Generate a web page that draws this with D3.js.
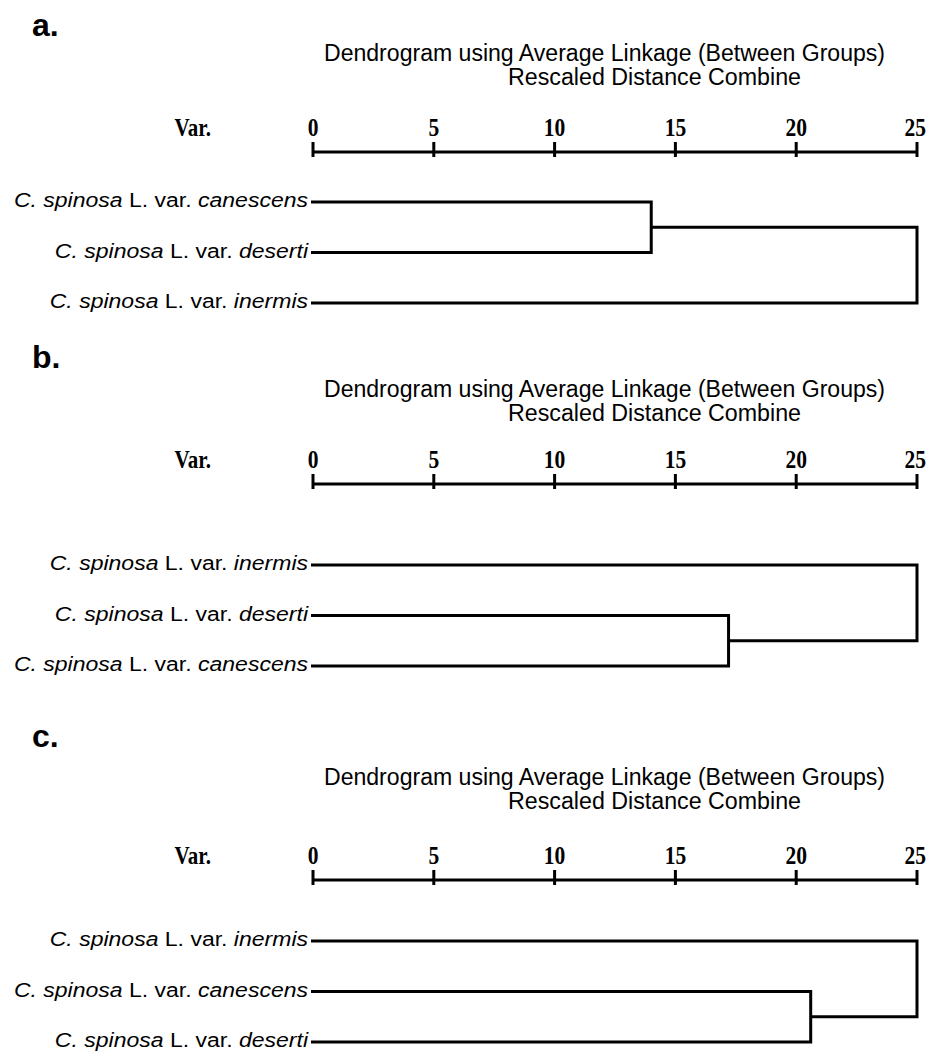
<!DOCTYPE html>
<html>
<head>
<meta charset="utf-8">
<script src="https://cdn.jsdelivr.net/npm/d3@7"></script>
<style>
  body { margin: 0; background: #fff; }
  svg { display: block; }
  text { white-space: pre; }
</style>
</head>
<body>
<svg id="chart" width="928" height="1051"></svg>
<script>
const panelLetters = ['a.', 'b.', 'c.'];
const titleLines = ['Dendrogram using Average Linkage (Between Groups)', 'Rescaled Distance Combine'];
const axisTicks = [0, 5, 10, 15, 20, 25];
const axisLabel = 'Var.';
const speciesName = 'C. spinosa';
const rankText = ' L. var. ';

// leaf order top to bottom for each panel
const leavesA = ['canescens', 'deserti', 'inermis'];
const leavesB = ['inermis', 'deserti', 'canescens'];
const leavesC = ['inermis', 'canescens', 'deserti'];
// the two leaves joined first
const pairA = [0, 1];
const pairB = [1, 2];
const pairC = [1, 2];
// rescaled distance of first join, then of the root join
const joinA = [14, 25];
const joinB = [17.2, 25];
const joinC = [20.6, 25];

const panels = [
  { leaves: leavesA, pair: pairA, joins: joinA },
  { leaves: leavesB, pair: pairB, joins: joinB },
  { leaves: leavesC, pair: pairC, joins: joinC },
];

// vertical layout of each panel
const layout = [
  { letterY: 36, t1: 61, t2: 85, axisY: 152, leafY: 202 },
  { letterY: 368, t1: 397, t2: 421, axisY: 484, leafY: 565 },
  { letterY: 747, t1: 785, t2: 809, axisY: 880, leafY: 941 },
];

const svg = d3.select('#chart');
const sans = '"Liberation Sans", Arial, sans-serif';
const serif = '"Liberation Serif", "Times New Roman", serif';
const W = 928;

let x = d3.scaleLinear().domain([0, 25]).range([313, 917]);
let leafStep = 50.5;

function stretch(sel, k) {
  sel.each(function () {
    const w = this.getComputedTextLength();
    d3.select(this).attr('textLength', w * k).attr('lengthAdjust', 'spacingAndGlyphs');
  });
}

function buildTree(leaves, pair, joins) {
  const other = [0, 1, 2].find(i => !pair.includes(i));
  const inner = { height: joins[0], children: pair.map(i => ({ name: leaves[i], idx: i })) };
  const single = { name: leaves[other], idx: other };
  return { height: joins[1], children: other < pair[0] ? [single, inner] : [inner, single] };
}

function drawPanel(p, i) {
  const L = layout[i];
  const tickY = L.axisY - 16;
  const g = svg.append('g');
  let y = d3.scaleLinear().domain([0, 1]).range([L.leafY, L.leafY + leafStep]);

  g.append('text')
    .attr('x', 32).attr('y', L.letterY)
    .attr('font-family', sans).attr('font-weight', 'bold').attr('font-size', 32)
    .text(panelLetters[i]);

  g.append('text')
    .attr('x', 324).attr('y', L.t1)
    .attr('font-family', sans).attr('font-size', 23)
    .attr('textLength', 561).attr('lengthAdjust', 'spacingAndGlyphs')
    .text(titleLines[0]);
  g.append('text')
    .attr('x', 508).attr('y', L.t2)
    .attr('font-family', sans).attr('font-size', 23)
    .attr('textLength', 293).attr('lengthAdjust', 'spacingAndGlyphs')
    .text(titleLines[1]);

  // axis
  const axisG = g.append('g').attr('transform', `translate(0,${L.axisY})`);
  axisG.append('line')
    .attr('x1', x(0)).attr('x2', x(25))
    .attr('stroke', '#000').attr('stroke-width', 3);
  axisG.selectAll('line.tick')
    .data(axisTicks)
    .enter()
    .append('line')
    .attr('class', 'tick')
    .attr('x1', d => x(d)).attr('x2', d => x(d))
    .attr('y1', -10).attr('y2', 5)
    .attr('stroke', '#000').attr('stroke-width', 3);
  g.selectAll('text.tl')
    .data(axisTicks)
    .enter()
    .append('text')
    .attr('class', 'tl')
    .attr('x', d => x(d)).attr('y', tickY)
    .attr('text-anchor', 'middle')
    .attr('font-family', serif).attr('font-weight', 'bold').attr('font-size', 25)
    .text(d => d)
    .call(stretch, 0.86)
    .each(function (d) {
      // keep the last label inside the page
      const w = +this.getAttribute('textLength');
      if (x(d) + w / 2 > W - 2) d3.select(this).attr('x', W - 2 - w / 2);
    });
  g.append('text')
    .attr('x', 211).attr('y', tickY)
    .attr('text-anchor', 'end')
    .attr('font-family', serif).attr('font-weight', 'bold').attr('font-size', 25)
    .text(axisLabel)
    .call(stretch, 0.84);

  // tree
  const root = d3.hierarchy(buildTree(p.leaves, p.pair, p.joins));
  root.eachAfter(n => {
    if (n.children) {
      n.px = x(n.data.height);
      n.py = d3.mean(n.children, c => c.py);
    } else {
      n.px = x(0) - 2;
      n.py = y(n.data.idx);
    }
  });

  g.selectAll('path.link')
    .data(root.descendants().filter(n => n.children))
    .enter()
    .append('path')
    .attr('class', 'link')
    .attr('d', n => {
      const [a, b] = n.children;
      return `M${a.px},${a.py}H${n.px}V${b.py}H${b.px}`;
    })
    .attr('fill', 'none')
    .attr('stroke', '#000')
    .attr('stroke-width', 3)
    .attr('stroke-linejoin', 'miter');

  const labels = g.selectAll('text.leaf')
    .data(root.leaves())
    .enter()
    .append('text')
    .attr('class', 'leaf')
    .attr('x', n => n.px - 3)
    .attr('y', n => n.py + 5)
    .attr('text-anchor', 'end')
    .attr('font-family', sans).attr('font-size', 20);
  labels.append('tspan').attr('font-style', 'italic').text(speciesName);
  labels.append('tspan').text(rankText);
  labels.append('tspan').attr('font-style', 'italic').text(n => n.data.name);
  labels.call(stretch, 1.15);
}

panels.forEach(drawPanel);
</script>
</body>
</html>
